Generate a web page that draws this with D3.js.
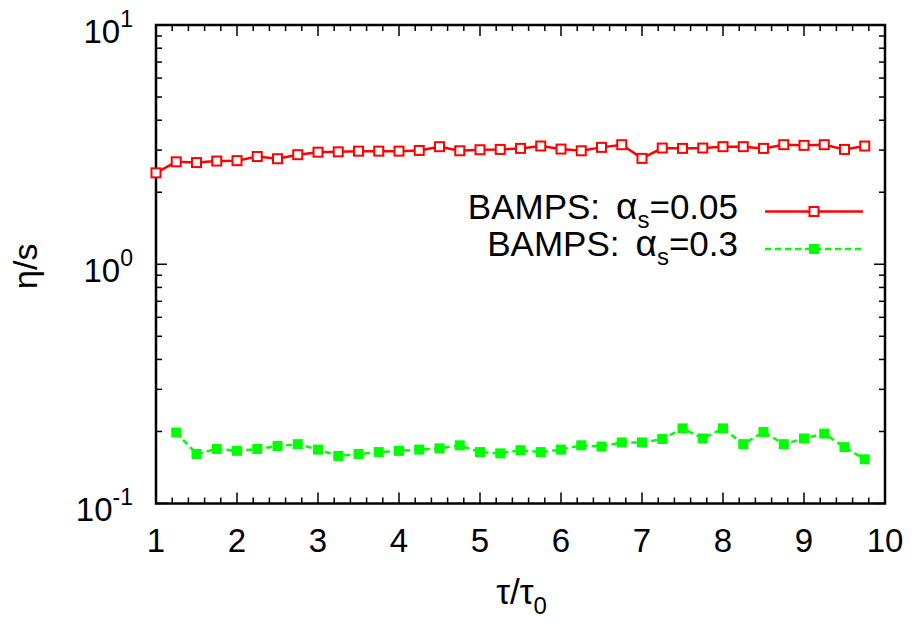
<!DOCTYPE html>
<html>
<head>
<meta charset="utf-8">
<script src="https://cdn.jsdelivr.net/npm/d3@7"></script>
<style>
  body { margin: 0; background: #fff; }
  text { font-family: "Liberation Sans", Arial, sans-serif; fill: #000; }
</style>
</head>
<body>
<div id="chart"></div>
<script>
// tau/tau0 values and eta/s for the two runs
const xRed = [1, 1.25, 1.5, 1.75, 2, 2.25, 2.5, 2.75, 3, 3.25, 3.5, 3.75, 4, 4.25, 4.5, 4.75, 5, 5.25,
  5.5, 5.75, 6, 6.25, 6.5, 6.75, 7, 7.25, 7.5, 7.75, 8, 8.25, 8.5, 8.75, 9, 9.25, 9.5, 9.75];
const yRed = [2.41, 2.68, 2.66, 2.70, 2.71, 2.82, 2.76, 2.87, 2.94, 2.95, 2.97, 2.97, 2.97, 2.99, 3.10, 2.98, 3.01, 3.02,
  3.05, 3.12, 3.03, 2.98, 3.08, 3.16, 2.77, 3.06, 3.05, 3.06, 3.10, 3.10, 3.05, 3.16, 3.14, 3.16, 3.02, 3.12];

const xGreen = [1.25, 1.5, 1.75, 2, 2.25, 2.5, 2.75, 3, 3.25, 3.5, 3.75, 4, 4.25, 4.5, 4.75, 5, 5.25,
  5.5, 5.75, 6, 6.25, 6.5, 6.75, 7, 7.25, 7.5, 7.75, 8, 8.25, 8.5, 8.75, 9, 9.25, 9.5, 9.75];
const yGreen = [0.198, 0.161, 0.169, 0.166, 0.169, 0.174, 0.177, 0.168, 0.158, 0.161, 0.164, 0.166, 0.168, 0.170, 0.175, 0.164, 0.162,
  0.167, 0.164, 0.168, 0.175, 0.173, 0.180, 0.180, 0.186, 0.206, 0.187, 0.206, 0.177, 0.199, 0.177, 0.187, 0.196, 0.172, 0.153];

const xTicks = [1, 2, 3, 4, 5, 6, 7, 8, 9, 10];
const yTicks = [0.1, 1, 10];
const yTickExp = ["-1", "0", "1"];
const legendLabels = ["0.05", "0.3"];

const W = 915, H = 623;
const pl = 156, pr = 885, pt = 25, pb = 503.5;

const svg = d3.select("#chart").append("svg")
    .attr("width", W)
    .attr("height", H);

const x = d3.scaleLinear().domain([1, 10]).range([pl, pr]);
const y = d3.scaleLog().domain([0.1, 10]).range([pb, pt]);

// minor ticks
const xMinor = d3.range(1, 10.001, 0.2).filter(v => Math.abs(v - Math.round(v)) > 1e-6);
const yMinor = [];
[0.1, 1].forEach(d => { for (let k = 2; k <= 9; k++) yMinor.push(d * k); });

const tickG = svg.append("g").attr("stroke", "#000").attr("stroke-width", 1.5);

xTicks.forEach(v => {
    tickG.append("line").attr("x1", x(v)).attr("x2", x(v)).attr("y1", pb).attr("y2", pb - 11);
    tickG.append("line").attr("x1", x(v)).attr("x2", x(v)).attr("y1", pt).attr("y2", pt + 11);
});
xMinor.forEach(v => {
    tickG.append("line").attr("x1", x(v)).attr("x2", x(v)).attr("y1", pb).attr("y2", pb - 6);
    tickG.append("line").attr("x1", x(v)).attr("x2", x(v)).attr("y1", pt).attr("y2", pt + 6);
});
yTicks.forEach(v => {
    tickG.append("line").attr("x1", pl).attr("x2", pl + 11).attr("y1", y(v)).attr("y2", y(v));
    tickG.append("line").attr("x1", pr).attr("x2", pr - 11).attr("y1", y(v)).attr("y2", y(v));
});
yMinor.forEach(v => {
    tickG.append("line").attr("x1", pl).attr("x2", pl + 6).attr("y1", y(v)).attr("y2", y(v));
    tickG.append("line").attr("x1", pr).attr("x2", pr - 6).attr("y1", y(v)).attr("y2", y(v));
});

// frame
svg.append("rect")
    .attr("x", pl).attr("y", pt)
    .attr("width", pr - pl).attr("height", pb - pt)
    .attr("fill", "none").attr("stroke", "#000").attr("stroke-width", 2.5);

// tick labels
svg.append("g").selectAll("text").data(xTicks).join("text")
    .attr("x", d => x(d))
    .attr("y", pb + 48.5)
    .attr("text-anchor", "middle")
    .attr("font-size", 33)
    .text(d => d);

const yl = svg.append("g").selectAll("text").data(yTicks).join("text")
    .attr("x", 133)
    .attr("y", d => y(d) + 17.5)
    .attr("text-anchor", "end")
    .attr("font-size", 33);
yl.append("tspan").text("10");
yl.append("tspan").attr("font-size", 23).attr("dy", -16).text((d, i) => yTickExp[i]);

// axis titles
svg.append("text")
    .attr("transform", `translate(37,${(pt + pb) / 2 + 2}) rotate(-90)`)
    .attr("text-anchor", "middle")
    .attr("font-size", 34)
    .text("η/s");

const xt = svg.append("text")
    .attr("x", (pl + pr) / 2 + 1)
    .attr("y", 604)
    .attr("text-anchor", "middle")
    .attr("font-size", 35);
xt.append("tspan").text("τ/τ");
xt.append("tspan").attr("font-size", 24).attr("dy", 10).text("0");

// series
const red = "#ff0000", green = "#00ff00";
const line = d3.line().x(d => x(d[0])).y(d => y(d[1]));
const redPts = xRed.map((v, i) => [v, yRed[i]]);
const greenPts = xGreen.map((v, i) => [v, yGreen[i]]);

svg.append("path").datum(redPts).attr("d", line)
    .attr("fill", "none").attr("stroke", red).attr("stroke-width", 2.5);
svg.append("g").selectAll("rect").data(redPts).join("rect")
    .attr("x", d => x(d[0]) - 4.5).attr("y", d => y(d[1]) - 4.5)
    .attr("width", 9).attr("height", 9)
    .attr("fill", "#fff").attr("stroke", red).attr("stroke-width", 2);

svg.append("path").datum(greenPts).attr("d", line)
    .attr("fill", "none").attr("stroke", green).attr("stroke-width", 2.5)
    .attr("stroke-dasharray", "6,4");
svg.append("g").selectAll("rect").data(greenPts).join("rect")
    .attr("x", d => x(d[0]) - 5).attr("y", d => y(d[1]) - 5)
    .attr("width", 10).attr("height", 10)
    .attr("fill", green);

// legend
const legY = [211.5, 249];
legendLabels.forEach((lab, i) => {
    const t = svg.append("text")
        .attr("x", 738)
        .attr("y", legY[i] + 7)
        .attr("text-anchor", "end")
        .attr("font-size", 35);
    t.append("tspan").text("BAMPS:");
    t.append("tspan").attr("dx", 16).attr("font-size", 37).text("α");
    t.append("tspan").attr("font-size", 24).attr("dy", 9).text("s");
    t.append("tspan").attr("dy", -9).text("=" + lab);
});
svg.append("line").attr("x1", 765).attr("x2", 863).attr("y1", legY[0]).attr("y2", legY[0])
    .attr("stroke", red).attr("stroke-width", 2.5);
svg.append("rect").attr("x", 814 - 4.5).attr("y", legY[0] - 4.5).attr("width", 9).attr("height", 9)
    .attr("fill", "#fff").attr("stroke", red).attr("stroke-width", 2);
svg.append("line").attr("x1", 765).attr("x2", 863).attr("y1", legY[1]).attr("y2", legY[1])
    .attr("stroke", green).attr("stroke-width", 2.5).attr("stroke-dasharray", "6,4");
svg.append("rect").attr("x", 814 - 5).attr("y", legY[1] - 5).attr("width", 10).attr("height", 10)
    .attr("fill", green);
</script>
</body>
</html>
